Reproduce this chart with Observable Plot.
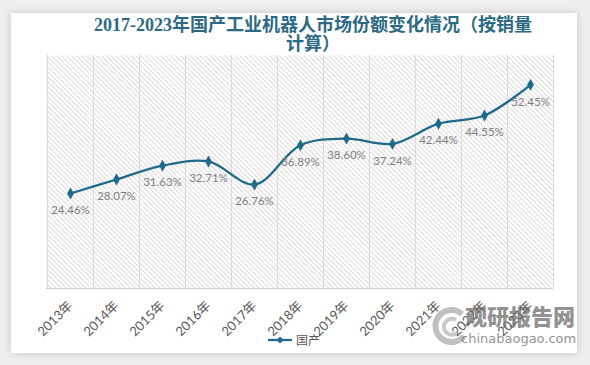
<!DOCTYPE html>
<html>
<head>
<meta charset="utf-8">
<script src="https://cdn.jsdelivr.net/npm/d3@7"></script>
<script src="https://cdn.jsdelivr.net/npm/@observablehq/plot@0.6"></script>
<style>
  html, body { margin: 0; padding: 0; }
  body { width: 590px; height: 365px; background: #efefef; position: relative; overflow: hidden; font-family: Lato, "Noto Sans CJK SC", sans-serif; }
  #card { position: absolute; left: 11px; top: 13px; width: 566px; height: 340px; background: #fff; box-shadow: 0 0 8px rgba(0,0,0,0.18); }
  #chart { position: absolute; left: 0; top: 0; }
  #title { position: absolute; left: 0; top: 16px; width: 626px; text-align: center; font-family: "Liberation Serif", "Noto Sans CJK SC", serif; font-weight: bold; font-size: 18px; line-height: 19px; color: #2c6a84; }
  #legend { position: absolute; left: 268px; top: 331px; display: flex; align-items: center; font-family: "Noto Sans CJK SC", sans-serif; font-size: 12px; color: #595959; }
  #wm { position: absolute; left: 428px; top: 302px; color: rgba(110,110,110,0.75); }
  #wm .cn { position: absolute; left: 37px; top: 0px; font-family: "Noto Sans CJK SC", sans-serif; font-weight: 900; font-size: 22px; line-height: 26px; white-space: nowrap; }
  #wm .en { position: absolute; left: 33px; top: 29px; font-family: "DejaVu Sans", sans-serif; font-size: 13px; line-height: 16px; white-space: nowrap; }
</style>
</head>
<body>
<div id="card"></div>
<div id="chart"></div>
<div id="title">2017-2023年国产工业机器人市场份额变化情况（按销量<br>计算）</div>
<div id="legend"><svg width="26" height="12"><line x1="0" y1="6" x2="24" y2="6" stroke="#1f6a8b" stroke-width="2.25"/><path d="M12,2.5 L15.5,6 L12,9.5 L8.5,6 Z" fill="#1f6a8b"/></svg><span style="margin-left:2px">国产</span></div>
<div id="wm"><svg width="44" height="44" style="position:absolute;left:0;top:2px"><path d="M34,10 A16,16 0 1,0 36,32" fill="none" stroke="rgba(150,150,150,0.6)" stroke-width="6"/><path d="M28,16 A8,8 0 1,0 30,28" fill="none" stroke="rgba(150,150,150,0.5)" stroke-width="4"/></svg><div class="cn">观研报告网</div><div class="en">chinabaogao.com</div></div>
<script>
const years = ["2013年","2014年","2015年","2016年","2017年","2018年","2019年","2020年","2021年","2022年","2023年"];
const shares = [24.46, 28.07, 31.63, 32.71, 26.76, 36.89, 38.60, 37.24, 42.44, 44.55, 52.45];
const seriesName = "国产";

const data = years.map((y, i) => ({year: y, value: shares[i]}));

const W = 590, H = 365, mL = 46, mR = 37, mT = 55, mB = 77;
const step = (W - mL - mR) / years.length;
const lineColor = "#1f6a8b";

const axisOpts = {tickRotate: -45, tickSize: 0, tickPadding: 15, label: null, fontSize: 13, fill: "#595959"};
const xAxisMarks = Plot.axisX ? [Plot.axisX(axisOpts)] : [];

const chart = Plot.plot({
  width: W,
  height: H,
  marginLeft: mL,
  marginRight: mR,
  marginTop: mT,
  marginBottom: mB,
  style: {background: "transparent", fontFamily: "Lato, 'Noto Sans CJK SC', sans-serif", color: "#595959"},
  x: Object.assign({type: "band", domain: years, padding: 0}, Plot.axisX ? {} : {label: null, tickRotate: -45, tickSize: 0, tickPadding: 15}),
  y: {domain: [0, 60], axis: null},
  marks: [
    Plot.frame({fill: "url(#hatch)", stroke: "none"}),
    Plot.ruleX(years, {x: d => d, dx: -step / 2, stroke: "#d9d9d9", strokeWidth: 1}),
    Plot.ruleX(years.slice(-1), {x: d => d, dx: step / 2, stroke: "#d9d9d9", strokeWidth: 1}),
    Plot.ruleY([0], {stroke: "#d0d0d0", strokeWidth: 1}),
    ...xAxisMarks,
    Plot.line(data, {x: "year", y: "value", stroke: lineColor, strokeWidth: 2.25, curve: "catmull-rom"}),
    Plot.dot(data, {x: "year", y: "value", symbol: "diamond", r: 3.6, fill: lineColor, stroke: "none"}),
    Plot.text(data, {x: "year", y: "value", text: d => d.value.toFixed(2) + "%", dy: 17, fill: "#7f7f7f", fontSize: 11.5})
  ]
});

// hatched plot background pattern
const ns = "http://www.w3.org/2000/svg";
const defs = document.createElementNS(ns, "defs");
defs.innerHTML = '<pattern id="hatch" width="3.5" height="3.5" patternUnits="userSpaceOnUse" patternTransform="rotate(-45)"><rect width="3.5" height="3.5" fill="#ffffff"/><line x1="0.6" y1="0" x2="0.6" y2="3.5" stroke="#d8d8d8" stroke-width="1"/></pattern>';
chart.insertBefore(defs, chart.firstChild);

chart.querySelectorAll('g[aria-label^="x-axis"] text').forEach(t => {
  t.setAttribute("font-size", "13");
  t.style.fontSize = "13px";
});

document.getElementById("chart").appendChild(chart);
</script>
</body>
</html>
